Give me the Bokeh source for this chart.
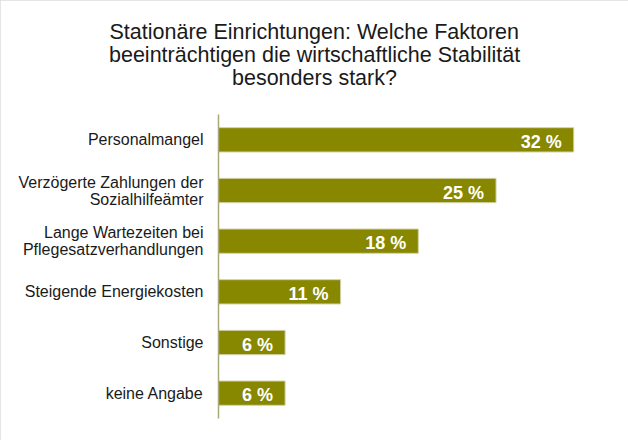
from bokeh.plotting import figure
from bokeh.models import ColumnDataSource, FactorRange, Range1d, LabelSet, Title
from bokeh.core.properties import value
from bokeh.embed import file_html
from bokeh.resources import INLINE

categories = [
    "Personalmangel",
    "Verzögerte Zahlungen der\nSozialhilfeämter",
    "Lange Wartezeiten bei\nPflegesatzverhandlungen",
    "Steigende Energiekosten",
    "Sonstige",
    "keine Angabe",
]
values = [32, 25, 18, 11, 6, 6]
value_labels = [f"{v} %" for v in values]
title_lines = [
    "Stationäre Einrichtungen: Welche Faktoren",
    "beeinträchtigen die wirtschaftliche Stabilität",
    "besonders stark?\n ",
]
# horizontal shift of each left-aligned title line so that it is centred on the canvas
title_offsets = [-109, -109.5, 13.5]
title_line_heights = [1.2, 1.2, 1.08]


def make_title(text, off, lh, standoff):
    kw = dict(text=text, align="left", offset=off,
              text_font="Liberation Sans", text_font_size="21.5px",
              text_font_style="normal", text_color="#1a1a1a", text_line_height=lh)
    try:
        return Title(standoff=standoff, **kw)
    except Exception:
        return Title(standoff=0, **kw)


source = ColumnDataSource(dict(cat=categories, val=values, lab=value_labels))

X_MAX = 34.23
p = figure(
    width=628, height=440,
    y_range=FactorRange(factors=list(reversed(categories)), range_padding=0),
    x_range=Range1d(0, X_MAX),
    output_backend="svg", toolbar_location=None,
    min_border_left=218, min_border_right=30, min_border_bottom=22, min_border_top=114,
)
p.title = None
for line, off, lh in reversed(list(zip(title_lines, title_offsets, title_line_heights))):
    p.add_layout(make_title(line, off, lh, -3), "above")

p.hbar(y="cat", left=0, right="val", height=0.48, source=source,
       fill_color="#878700", line_color="#d2d2ac", line_width=1)

labels = LabelSet(x="val", y="cat", text="lab", source=source, x_offset=-12, y_offset=-2,
                  text_align="right", text_baseline="middle", text_color="white",
                  text_font=value("Liberation Sans"), text_font_style="bold",
                  text_font_size=value("18px"))
p.add_layout(labels)

p.xaxis.visible = False
p.xgrid.visible = False
p.ygrid.visible = False
p.outline_line_color = None

ax = p.yaxis[0]
ax.axis_line_color = "#a8a878"
ax.axis_line_width = 1.5
ax.major_tick_line_color = None
ax.minor_tick_line_color = None
ax.major_tick_out = 0
ax.major_tick_in = 0
ax.major_label_standoff = 15
ax.major_label_text_font = "Liberation Sans"
ax.major_label_text_font_size = "16px"
ax.major_label_text_color = "#1a1a1a"
ax.major_label_text_line_height = 1.0
ax.major_label_text_align = "center"

p.styles = {"outline": "2px solid #dcdcdc", "outline-offset": "-2px"}

open("out.html", "w").write(file_html(p, INLINE))
